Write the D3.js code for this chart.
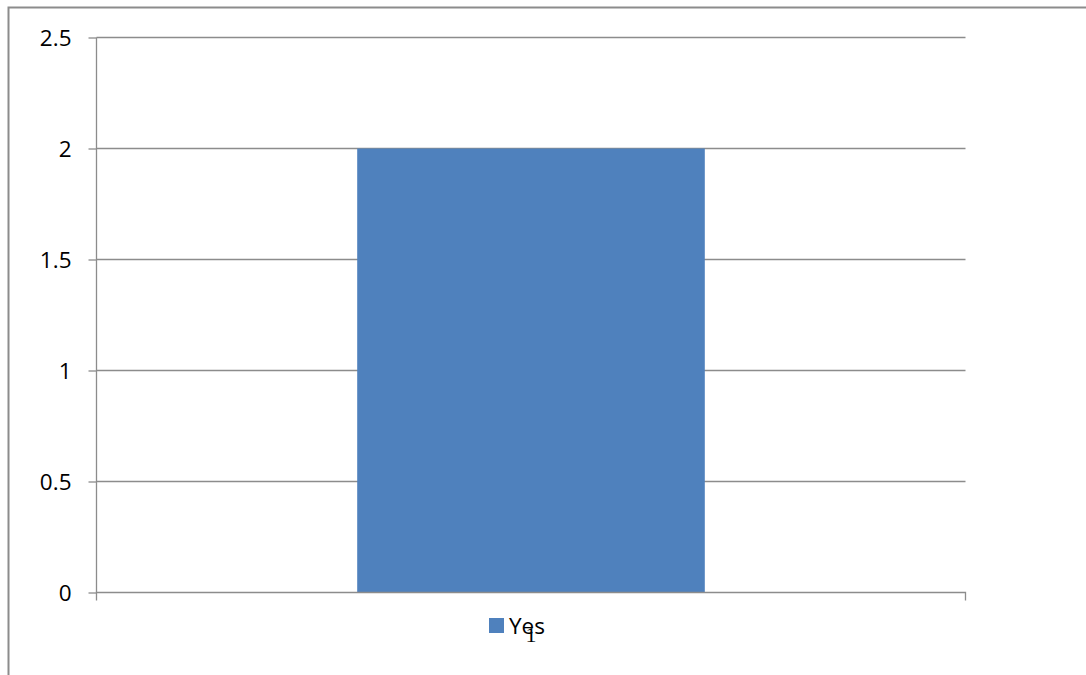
<!DOCTYPE html>
<html><head><meta charset="utf-8">
<script src="https://cdn.jsdelivr.net/npm/d3@7"></script>
<style>html,body{margin:0;padding:0;background:#fff;overflow:hidden}</style>
</head><body>
<svg id="c" width="1086" height="675"></svg>
<script>
const categories = ["1"];
const seriesName = "Yes";
const values = [2];
const yTicks = [0, 0.5, 1, 1.5, 2, 2.5];
const yTickLabels = ["0", "0.5", "1", "1.5", "2", "2.5"];

(function () {
const svg = d3.select("#c");
const font = "'Open Sans', 'DejaVu Sans', sans-serif";
const grid = "#8c8c8c";

// outer chart border
svg.append("path").attr("d", "M8.5,680 L8.5,7.5 L1090,7.5")
  .attr("fill", "none").attr("stroke", grid).attr("stroke-width", 2);

const pL = 96.5, pR = 965.5, pT = 37.5, pB = 592.5;
const x = d3.scaleBand().domain(categories).range([pL, pR]).paddingInner(0).paddingOuter(0);
const y = d3.scaleLinear().domain([0, 2.5]).range([pB, pT]);

// gridlines
svg.append("g").selectAll("line").data(yTicks.filter(d => d > 0)).join("line")
  .attr("x1", pL).attr("x2", pR)
  .attr("y1", d => y(d)).attr("y2", d => y(d))
  .attr("stroke", grid).attr("stroke-width", 1.3);

// bar
const barW = x.bandwidth() * 0.4;
svg.append("g").selectAll("rect").data(values).join("rect")
  .attr("x", (d, i) => x(categories[i]) + (x.bandwidth() - barW) / 2)
  .attr("y", d => y(d))
  .attr("width", barW)
  .attr("height", d => y(0) - y(d))
  .attr("fill", "#4F81BD");

// y axis
const yAxis = d3.axisLeft(y).tickValues(yTicks).tickFormat((d, i) => yTickLabels[i]).tickSize(8).tickPadding(17);
const ga = svg.append("g").attr("transform", `translate(${pL},0)`).call(yAxis);
ga.select(".domain").attr("stroke", grid).attr("stroke-width", 1.3).attr("d", `M0,${pT}V${pB}`);
ga.selectAll(".tick line").attr("stroke", grid).attr("stroke-width", 1.3);
ga.selectAll(".tick text").attr("font-family", font).attr("font-size", 22.5).attr("fill", "#000")
  .attr("dy", null).attr("y", 7.5);

// x axis
const xAxis = d3.axisBottom(x).tickSize(0).tickPadding(0);
const gx = svg.append("g").attr("transform", `translate(0,${pB})`).call(xAxis);
gx.select(".domain").remove();
gx.selectAll(".tick text").attr("font-family", "'Liberation Serif', 'DejaVu Serif', serif")
  .attr("font-size", 22).attr("fill", "#000").attr("dy", null).attr("y", 49);
svg.append("path").attr("d", `M${pL},${pB + 8}V${pB}H${pR}V${pB + 8}`)
  .attr("fill", "none").attr("stroke", grid).attr("stroke-width", 1.3);

// legend
const lg = svg.append("g").attr("transform", "translate(489,618)");
lg.append("rect").attr("width", 15).attr("height", 15).attr("fill", "#4F81BD");
lg.append("text").attr("x", 20).attr("y", 16).text(seriesName)
  .attr("font-family", font).attr("font-size", 22.5).attr("fill", "#000");
})();
</script>
</body></html>
